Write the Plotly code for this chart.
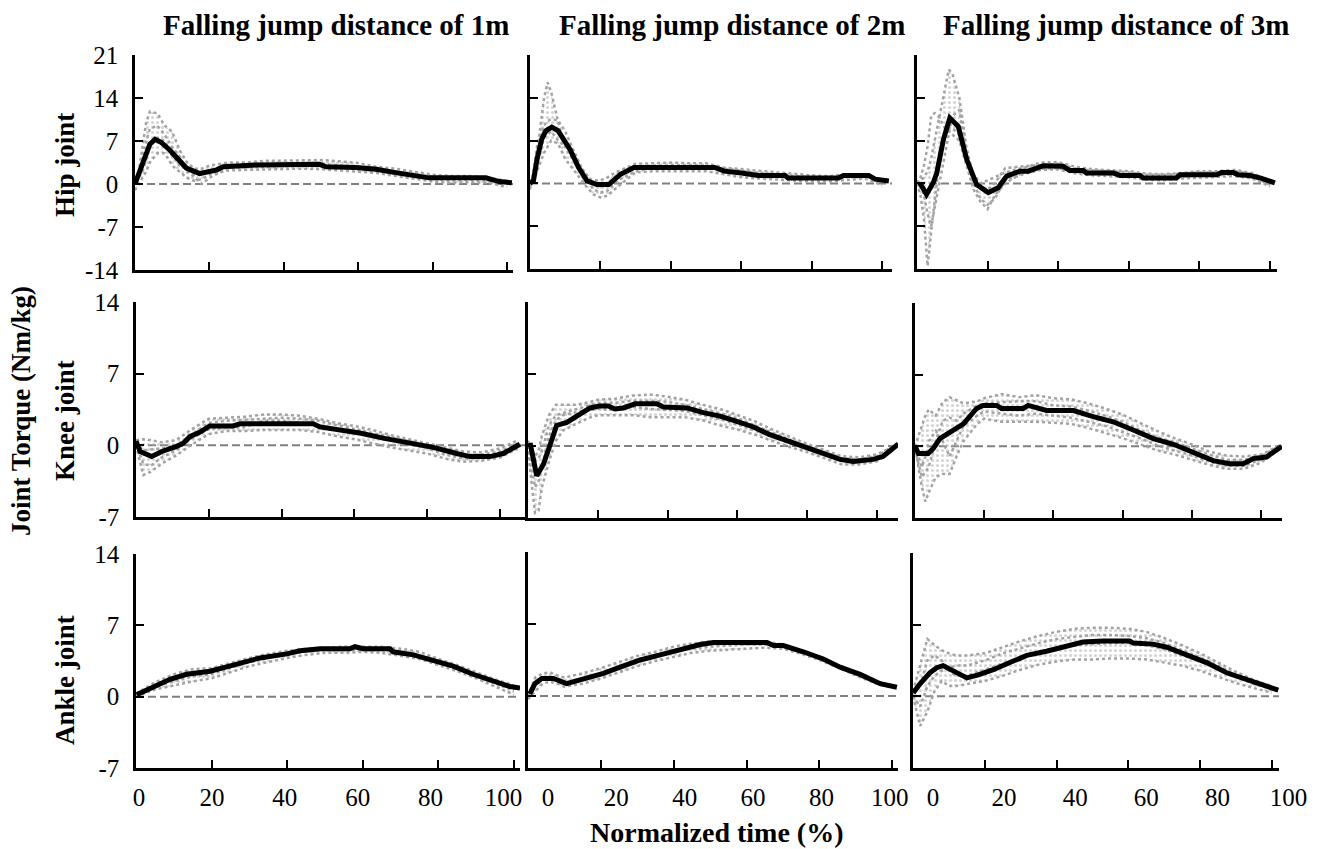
import plotly.graph_objects as go

W, H = 1321, 849
FONT = "Liberation Serif, Times New Roman, Times, serif"

# ---------------- data ----------------
TITLES = ["Falling jump distance of 1m", "Falling jump distance of 2m", "Falling jump distance of 3m"]
ROW_LABELS = ["Hip joint", "Knee joint", "Ankle joint"]
X_TICKS = [0, 20, 40, 60, 80, 100]
X_TICK_TEXT = ["0", "20", "40", "60", "80", "100"]
Y_TICKS_HIP = [-14, -7, 0, 7, 14, 21]
Y_TEXT_HIP = ["-14", "-7", "0", "7", "14", "21"]
Y_TICKS_OTHER = [-7, 0, 7, 14]
Y_TEXT_OTHER = ["-7", "0", "7", "14"]

# Each *_TRIALS list: first = upper trial, second = lower trial, then others.

# Hip, 1 m
HIP_1M_X = [0, 1.8, 3, 4, 5.4, 7, 9.4, 11.2, 13.8, 17.4, 20.1, 22, 23.7, 32.6, 49.6, 51.4, 59.4, 64.8, 70.1, 74.6, 79, 94.3, 97.9, 101.3]
HIP_1M_MEAN = [0, 2.8, 5.0, 6.5, 7.3, 6.8, 5.5, 4.2, 2.6, 1.7, 2.0, 2.3, 2.8, 3.1, 3.2, 2.8, 2.7, 2.4, 1.85, 1.5, 1.0, 1.0, 0.4, 0.2]
HIP_1M_TX = [0, 1, 2, 3, 4, 6, 8, 10, 12, 14, 16, 18, 20, 25, 30, 35, 40, 45, 50, 55, 60, 65, 70, 75, 80, 85, 90, 95, 100]
HIP_1M_TRIALS = [
    [0, 2, 6, 10, 11.8, 11.5, 9.5, 8.5, 5.5, 3.5, 2.5, 2.5, 3.0, 3.5, 3.5, 3.8, 3.8, 3.8, 3.9, 3.7, 3.4, 2.8, 2.5, 2.0, 1.5, 1.3, 1.3, 1.0, 0.5],
    [-1, 0, 1, 2, 3.5, 5, 5, 3, 2, 1.0, 0.5, 0.8, 1.5, 2.2, 2.3, 2.4, 2.5, 2.5, 2.4, 2.2, 2.0, 1.8, 1.3, 0.8, 0.4, 0.2, 0.3, 0.2, -0.5],
    [0, 1.5, 4, 7, 9, 9.5, 8, 6, 4.5, 2.0, 1.5, 1.5, 2.2, 3.0, 2.8, 3.0, 3.3, 3.3, 3.3, 3.0, 2.9, 2.6, 2.0, 1.6, 1.2, 1.1, 1.0, 0.8, 0.3],
    [0.5, 1, 2, 4, 6, 7.5, 7, 4.5, 3, 2.5, 1.0, 0, 1.0, 2.6, 2.7, 2.8, 2.9, 3.0, 2.9, 2.6, 2.4, 2.1, 1.6, 1.2, 0.8, 0.6, 0.7, 0.5, 0],
]

# Hip, 2 m
HIP_2M_X = [0, 1, 2, 3.3, 4.5, 6.2, 8, 9.5, 11.4, 13.8, 16.2, 19, 22.4, 25.7, 29.5, 52.4, 55.2, 60, 64.8, 72.4, 73.3, 87.6, 89, 96.2, 98, 101.9]
HIP_2M_MEAN = [0, 0.5, 4.0, 7.2, 8.6, 9.2, 8.6, 7.2, 5.5, 2.6, 0.4, -0.2, -0.2, 1.5, 2.6, 2.6, 2.0, 1.7, 1.3, 1.3, 0.9, 0.9, 1.3, 1.3, 0.7, 0.4]
HIP_2M_TX = [0, 1, 2, 3, 4, 5, 6, 8, 10, 12, 14, 16, 18, 20, 22, 25, 30, 35, 40, 45, 50, 55, 60, 65, 70, 75, 80, 85, 90, 95, 100]
HIP_2M_TRIALS = [
    [0, 1, 5, 10, 14, 16.5, 15, 10, 6, 4, 2.5, 1.0, 0.5, 0.5, 1.0, 2.0, 3.2, 3.3, 3.4, 3.3, 3.3, 2.6, 2.3, 2.0, 1.8, 1.6, 1.3, 1.2, 1.5, 1.5, 0.5],
    [-0.5, 0.5, 2, 3.5, 5, 6, 7, 6.5, 4, 2.5, 1, -0.5, -1.8, -2.3, -2.0, -0.5, 1.8, 2.0, 2.0, 2.0, 2.0, 1.5, 1.0, 0.8, 0.6, 0.4, 0.3, 0.3, 0.5, 0.8, -0.3],
    [-1, 2, 6, 8, 9.5, 10.2, 10.5, 10.3, 8.5, 6, 3.5, 0.8, -1, -1.5, -1.2, 0.5, 2.0, 2.6, 2.7, 2.7, 2.6, 2.2, 1.9, 1.5, 1.3, 1.0, 0.9, 0.9, 1.1, 1.2, 0.2],
    [0, 1, 3, 5.5, 7.5, 8, 8.5, 7, 6, 5.5, 3, 1.5, 0, -0.5, 0, 1.5, 2.8, 2.9, 3.0, 3.0, 2.9, 2.4, 2.1, 1.7, 1.5, 1.2, 1.0, 0.9, 1.3, 1.4, 0.4],
]

# Hip, 3 m
HIP_3M_X = [0.8, 2.7, 4.6, 5.6, 7.5, 9.3, 11.7, 14.1, 16.9, 20.2, 23, 25.4, 29.2, 31.5, 35.8, 41.4, 43.3, 47.1, 48, 55.6, 57.5, 63.2, 64.1, 73.5, 74.5, 84.9, 86.3, 89.6, 91, 94.3, 97.2, 101.4]
HIP_3M_MEAN = [0.1, -1.8, 0.1, 1.7, 7.2, 10.7, 9.3, 3.9, -0.2, -1.5, -0.7, 1.2, 2.0, 2.0, 2.9, 2.8, 2.1, 2.1, 1.7, 1.7, 1.3, 1.3, 0.9, 0.9, 1.4, 1.4, 1.8, 1.8, 1.4, 1.3, 0.9, 0.1]
HIP_3M_TX = [0, 1, 2, 3, 4, 5, 6, 7, 8, 9, 10, 12, 14, 16, 18, 20, 22, 25, 30, 35, 40, 45, 50, 55, 60, 65, 70, 75, 80, 85, 90, 95, 100]
HIP_3M_TRIALS = [
    [0, 0.5, 1, 2, 4, 7, 10, 13, 16, 18.6, 18, 14, 6, 1, -0.5, -1, 0, 2.5, 2.8, 3.0, 3.2, 2.4, 2.1, 2.0, 1.8, 1.4, 1.4, 1.6, 1.8, 1.8, 2.0, 1.5, 0.2],
    [0, -2, -6, -13.5, -8, -3, 2, 5, 8, 9, 9, 8, 4, 0, -2.5, -3.5, -2.5, 0.5, 1.5, 2.2, 2.3, 1.6, 1.3, 1.2, 1.0, 0.6, 0.5, 0.8, 0.9, 1.0, 1.2, 0.8, -0.5],
    [0, 1, 3, 6, 11, 11.5, 11, 10, 9, 8.5, 8, 7, 3, -1, -3, -4.2, -2, 0, 1.8, 2.4, 2.5, 1.9, 1.6, 1.5, 1.3, 1.0, 0.9, 1.1, 1.3, 1.3, 1.5, 1.1, -0.2],
    [0.5, -0.5, -2, -5, -7, -4, -1, 2, 5, 8, 11, 12, 5, 1.5, 0, 0.5, 1.0, 1.8, 2.5, 3.4, 3.5, 2.7, 2.3, 2.2, 2.0, 1.6, 1.5, 1.7, 2.0, 2.0, 2.2, 1.7, 0.3],
]

# Knee, 1 m
KNEE_1M_X = [0, 1.1, 4.3, 7.1, 11.2, 13, 14.8, 17.6, 20.3, 26.7, 28.6, 48.7, 50.5, 56, 61.5, 67.9, 75.3, 81.7, 88.1, 91.8, 97.3, 100.9, 105.5]
KNEE_1M_MEAN = [0.4, -0.6, -1.1, -0.6, -0.1, 0.2, 0.85, 1.3, 1.9, 1.9, 2.1, 2.1, 1.8, 1.5, 1.2, 0.7, 0.2, -0.2, -0.8, -1.1, -1.1, -0.8, 0.1]
KNEE_1M_TX = [0, 2, 4, 7, 11, 15, 20, 25, 30, 35, 40, 45, 50, 55, 60, 65, 70, 75, 80, 85, 90, 95, 100, 105]
KNEE_1M_TRIALS = [
    [0.5, 0.6, 0.5, 0.3, 0.5, 1.5, 2.6, 2.7, 2.8, 3.0, 3.0, 2.9, 2.6, 2.2, 1.9, 1.5, 1.0, 0.6, 0.2, -0.2, -0.6, -0.7, -0.3, 0.5],
    [0, -2.9, -2.6, -1.8, -1.0, 0, 1.1, 1.4, 1.4, 1.5, 1.5, 1.5, 1.3, 0.9, 0.6, 0.2, -0.2, -0.5, -0.8, -1.3, -1.6, -1.5, -1.2, -0.3],
    [0.2, -1.8, -2.0, -1.2, -0.5, 0.6, 1.6, 1.7, 1.8, 2.4, 2.4, 2.2, 2.0, 1.6, 1.3, 0.9, 0.6, 0.1, -0.3, -0.9, -1.3, -1.2, -1.0, 0],
    [0.3, -0.5, -0.4, -0.3, 0, 1.0, 2.2, 2.4, 2.5, 2.6, 2.7, 2.6, 2.4, 2.0, 1.6, 1.2, 0.8, 0.4, 0, -0.5, -0.9, -0.9, -0.6, 0.2],
]

# Knee, 2 m
KNEE_2M_X = [0.6, 2.5, 4.4, 6.3, 8.2, 11.1, 14, 17.8, 20.6, 23, 24.9, 27.3, 30.7, 36.9, 38.8, 42.6, 45.5, 50.2, 55, 59.8, 64.6, 69.3, 74.1, 78.9, 83.7, 89.4, 93.2, 98.9, 101.8, 106.1]
KNEE_2M_MEAN = [0.3, -2.9, -1.8, 0.2, 2.0, 2.3, 2.9, 3.7, 3.9, 3.9, 3.6, 3.7, 4.1, 4.1, 3.8, 3.8, 3.7, 3.25, 2.9, 2.4, 1.85, 1.1, 0.5, 0, -0.65, -1.3, -1.5, -1.3, -1.0, 0.2]
KNEE_2M_TX = [0, 2, 3, 4, 6, 8, 10, 14, 18, 20, 25, 30, 35, 40, 45, 50, 55, 60, 65, 70, 75, 80, 85, 90, 95, 100, 105]
KNEE_2M_TRIALS = [
    [0.5, -1, -0.5, 1, 3, 4, 4, 4, 4.3, 4.5, 4.6, 4.9, 5.0, 4.8, 4.5, 4.0, 3.6, 3.0, 2.4, 1.6, 0.9, 0.2, -0.4, -1.0, -1.1, -0.8, 0],
    [-0.5, -6.5, -6.3, -4, -1.5, 0.5, 1.5, 2.2, 2.8, 3.0, 3.0, 3.0, 2.8, 2.8, 2.8, 2.5, 2.0, 1.6, 1.1, 0.5, -0.1, -0.6, -1.2, -1.8, -1.8, -1.5, -0.3],
    [0, -4, -3.5, -2, 1, 2.5, 3, 3.3, 3.5, 3.6, 3.5, 3.8, 3.6, 3.5, 3.4, 3.0, 2.6, 2.1, 1.5, 0.9, 0.3, -0.3, -0.9, -1.4, -1.5, -1.2, -0.1],
    [0.2, -1.5, -1.2, -0.5, 2, 3, 3.2, 3.6, 4, 4.2, 4.2, 4.4, 4.4, 4.3, 4.0, 3.6, 3.2, 2.7, 2.0, 1.3, 0.6, 0, -0.6, -1.2, -1.3, -1.0, 0.1],
]

# Knee, 3 m
KNEE_3M_X = [0, 1, 3.8, 5.3, 7.2, 10.1, 14, 17.8, 19.7, 23.6, 25, 31.3, 32.7, 38, 45.8, 51.5, 57.3, 63.1, 68.9, 74.7, 80.4, 86.2, 91, 94.9, 97.8, 101.6, 106]
KNEE_3M_MEAN = [0, -0.7, -0.7, -0.2, 0.75, 1.4, 2.2, 3.7, 4.0, 4.0, 3.7, 3.7, 4.0, 3.5, 3.5, 2.9, 2.4, 1.6, 0.75, 0.2, -0.55, -1.4, -1.7, -1.7, -1.2, -1.05, 0]
KNEE_3M_TX = [0, 2, 3, 4, 6, 8, 10, 12, 14, 18, 20, 25, 30, 35, 40, 45, 50, 55, 60, 65, 70, 75, 80, 85, 90, 95, 100, 105]
KNEE_3M_TRIALS = [
    [0, 2, 3, 3.6, 3, 4.3, 4.8, 4.5, 4.2, 4.4, 4.7, 5.1, 4.8, 5.0, 4.7, 4.6, 4.2, 3.7, 3.1, 2.3, 1.5, 0.8, 0.2, -0.5, -0.9, -1.0, -0.8, 0],
    [0, -4, -5.4, -4.5, -3, -2.7, -2.7, -1, 0.5, 2.2, 2.7, 2.4, 2.4, 2.4, 2.3, 2.2, 1.8, 1.3, 0.8, 0.2, -0.4, -0.8, -1.3, -1.8, -2.2, -2.2, -1.6, -0.3],
    [0, -2, -1, 0.5, 1.5, 0.5, -1.0, 0.5, 2.0, 3.0, 3.4, 3.2, 3.0, 3.2, 3.0, 2.8, 2.4, 2.0, 1.4, 0.8, 0.1, -0.4, -0.9, -1.5, -1.9, -1.9, -1.3, -0.2],
    [-0.3, -3, -2.5, -2, 0.5, 2.5, 2.8, 2.5, 3.2, 4.0, 4.2, 4.3, 4.4, 4.4, 4.0, 3.9, 3.5, 3.0, 2.4, 1.6, 0.9, 0.4, -0.2, -0.8, -1.3, -1.3, -1.0, 0],
]

# Ankle, 1 m
ANKLE_1M_X = [0.2, 1.9, 5.5, 9, 13.4, 19.6, 25.7, 32.8, 39.9, 43.4, 48.7, 56.6, 57.9, 60.1, 67.2, 68, 73.4, 78.7, 83.9, 89.2, 94.5, 98.9, 101.6]
ANKLE_1M_MEAN = [0.2, 0.5, 1.2, 1.7, 2.2, 2.5, 3.1, 3.8, 4.2, 4.5, 4.7, 4.7, 4.9, 4.7, 4.7, 4.4, 4.1, 3.6, 3.0, 2.2, 1.6, 1.0, 0.85]
ANKLE_1M_TX = [0, 5, 10, 15, 20, 25, 30, 35, 40, 45, 50, 55, 60, 65, 70, 75, 80, 85, 90, 95, 100]
ANKLE_1M_TRIALS = [
    [0.3, 1.4, 2.2, 2.7, 2.8, 3.3, 3.8, 4.2, 4.5, 4.7, 4.8, 4.9, 4.9, 4.9, 4.7, 4.4, 3.7, 3.1, 2.4, 1.7, 1.1],
    [0, 0.7, 1.1, 1.5, 1.8, 2.4, 3.0, 3.4, 3.8, 4.1, 4.3, 4.3, 4.4, 4.3, 4.0, 3.7, 3.1, 2.5, 1.8, 1.0, 0.2],
    [0.2, 1.0, 1.5, 2.0, 2.2, 2.8, 3.4, 3.8, 4.2, 4.4, 4.6, 4.6, 4.6, 4.6, 4.4, 4.0, 3.4, 2.8, 2.1, 1.3, 0.6],
]

# Ankle, 2 m
ANKLE_2M_X = [0.5, 1.9, 3.8, 7, 10.6, 16.1, 20.7, 25.3, 30.8, 36.3, 41.8, 47.3, 50.9, 65.6, 67.4, 70.1, 75.6, 81.1, 85.7, 91.2, 96.7, 101.3]
ANKLE_2M_MEAN = [0.2, 1.2, 1.7, 1.7, 1.2, 1.7, 2.2, 2.8, 3.5, 4.0, 4.5, 5.0, 5.2, 5.2, 4.9, 4.9, 4.3, 3.6, 2.8, 2.1, 1.2, 0.85]
ANKLE_2M_TX = [0, 2, 4, 6, 8, 10, 15, 20, 25, 30, 35, 40, 45, 50, 55, 60, 65, 70, 75, 80, 85, 90, 95, 100]
ANKLE_2M_TRIALS = [
    [0, 1.8, 2.2, 2.3, 2.0, 1.8, 2.2, 2.7, 3.3, 3.9, 4.3, 4.8, 5.1, 5.3, 5.3, 5.3, 5.3, 5.0, 4.4, 3.8, 3.0, 2.3, 1.5, 0.9],
    [-0.3, 0.5, 1.2, 1.4, 1.2, 0.9, 1.2, 1.7, 2.3, 2.9, 3.4, 3.8, 4.2, 4.4, 4.5, 4.6, 4.7, 4.6, 4.1, 3.5, 2.8, 2.0, 1.3, 0.8],
    [0, 1.2, 1.8, 1.9, 1.6, 1.3, 1.6, 2.1, 2.7, 3.3, 3.8, 4.3, 4.6, 4.8, 4.9, 5.0, 5.0, 4.8, 4.3, 3.6, 2.9, 2.1, 1.4, 0.9],
]

# Ankle, 3 m
ANKLE_3M_X = [0.1, 1.9, 4.7, 6.6, 8.4, 12.2, 15, 18.2, 22.4, 27, 31.7, 37.2, 42.8, 47.4, 53, 60.4, 61.4, 66.9, 70.7, 76.2, 81.8, 87.4, 92.9, 98.5, 101.8]
ANKLE_3M_MEAN = [0.35, 1.2, 2.3, 2.8, 3.0, 2.3, 1.8, 2.1, 2.6, 3.3, 4.0, 4.4, 4.9, 5.3, 5.4, 5.4, 5.2, 5.1, 4.8, 4.0, 3.3, 2.3, 1.6, 1.0, 0.6]
ANKLE_3M_TX = [0, 2, 4, 6, 8, 10, 12, 15, 20, 25, 30, 35, 40, 45, 50, 55, 60, 65, 70, 75, 80, 85, 90, 95, 100]
ANKLE_3M_TRIALS = [
    [0.5, 3, 5.6, 5, 4.5, 4.2, 4.0, 4.0, 4.2, 4.8, 5.4, 5.9, 6.3, 6.6, 6.7, 6.7, 6.6, 6.3, 5.7, 5.0, 4.2, 3.3, 2.4, 1.6, 1.0],
    [0, -2.9, -1.5, 0.5, 1.5, 1.0, 1.0, 1.2, 1.5, 2.0, 2.6, 3.1, 3.4, 3.6, 3.6, 3.7, 3.7, 3.6, 3.3, 3.0, 2.5, 1.9, 1.3, 0.8, 0.35],
    [0.2, 1, 3.5, 4, 3.5, 2.5, 2.0, 2.0, 2.6, 3.2, 3.8, 4.3, 4.7, 5.0, 5.1, 5.2, 5.2, 5.0, 4.6, 4.0, 3.4, 2.7, 1.9, 1.2, 0.7],
    [0, -1, 1, 2, 2.5, 2.8, 3.0, 3.0, 3.5, 4.2, 4.7, 5.2, 5.6, 5.8, 6.0, 6.0, 5.9, 5.7, 5.2, 4.5, 3.8, 3.0, 2.1, 1.4, 0.8],
]

PANELS = [
    (HIP_1M_X, HIP_1M_MEAN, HIP_1M_TX, HIP_1M_TRIALS),
    (HIP_2M_X, HIP_2M_MEAN, HIP_2M_TX, HIP_2M_TRIALS),
    (HIP_3M_X, HIP_3M_MEAN, HIP_3M_TX, HIP_3M_TRIALS),
    (KNEE_1M_X, KNEE_1M_MEAN, KNEE_1M_TX, KNEE_1M_TRIALS),
    (KNEE_2M_X, KNEE_2M_MEAN, KNEE_2M_TX, KNEE_2M_TRIALS),
    (KNEE_3M_X, KNEE_3M_MEAN, KNEE_3M_TX, KNEE_3M_TRIALS),
    (ANKLE_1M_X, ANKLE_1M_MEAN, ANKLE_1M_TX, ANKLE_1M_TRIALS),
    (ANKLE_2M_X, ANKLE_2M_MEAN, ANKLE_2M_TX, ANKLE_2M_TRIALS),
    (ANKLE_3M_X, ANKLE_3M_MEAN, ANKLE_3M_TX, ANKLE_3M_TRIALS),
]

# ---------------- layout geometry (pixels) ----------------
# left, right, top, bottom, x max, y min, y max
GEOM = [
    (135, 513, 55, 270, 101.6, -14, 21),
    (530, 892, 55, 269, 102.8, -14, 21),
    (917, 1277, 55, 269, 102.0, -14, 21),
    (136, 525, 302, 517, 106.9, -7, 14),
    (528, 898, 302, 518, 106.0, -7, 14),
    (915, 1282, 303, 518, 106.1, -7, 14),
    (136, 520, 554, 768, 101.6, -7, 14),
    (528, 898, 552, 768, 101.6, -7, 14),
    (913, 1279, 553, 768, 102.0, -7, 14),
]
# pixel centres of the "0" and "100" x tick labels under each bottom panel
LABEL_PX = {7: (139, 503.5), 8: (548, 889.8), 9: (933, 1288.6)}
TITLE_X = [336, 732, 1116]
ROW_Y = [165, 421, 680]

GRAY = "#a3a3a3"

def ax(name, k):
    return name if k == 1 else f"{name}{k}"

fig = go.Figure()
layout = dict(
    width=W, height=H, margin=dict(l=0, r=0, t=0, b=0, pad=0, autoexpand=False),
    paper_bgcolor="white", plot_bgcolor="rgba(0,0,0,0)", showlegend=False,
    font=dict(family=FONT, size=25, color="black"),
)
shapes = []

for i, (xm, ym, tx, trials) in enumerate(PANELS):
    k = i + 1
    l, r, t, b, xmax, ymin, ymax = GEOM[i]
    col = i % 3
    row = i // 3
    xa, ya = ax("x", k), ax("y", k)
    for j, tr in enumerate(trials):
        extra = {}
        if j == 1:
            # dotted texture between the upper and the lower trial
            extra = dict(fill="tonexty", fillcolor="rgba(0,0,0,0)",
                         fillpattern=dict(shape=".", fgcolor="#ababab",
                                          bgcolor="rgba(0,0,0,0)", size=5, solidity=0.32))
        fig.add_trace(go.Scatter(x=tx, y=tr, mode="lines", xaxis=xa, yaxis=ya,
                                 line=dict(color=GRAY, width=2.5, dash="dot"),
                                 hoverinfo="skip", **extra))
    fig.add_trace(go.Scatter(x=xm, y=ym, mode="lines", xaxis=xa, yaxis=ya,
                             line=dict(color="black", width=5), hoverinfo="skip"))
    layout[ax("xaxis", k)] = dict(
        domain=[l / W, r / W], range=[0, xmax], anchor=ya, automargin=False,
        showline=True, linecolor="black", linewidth=2.5,
        ticks="inside", ticklen=8, tickwidth=2, tickcolor="black",
        tickvals=X_TICKS, showticklabels=False,
        showgrid=False, zeroline=False, fixedrange=True,
    )
    layout[ax("yaxis", k)] = dict(
        domain=[1 - b / H, 1 - t / H], range=[ymin, ymax], anchor=xa, automargin=False,
        showline=True, linecolor="black", linewidth=2.5,
        ticks="inside", ticklen=8, tickwidth=2, tickcolor="black",
        tickvals=Y_TICKS_HIP if row == 0 else Y_TICKS_OTHER,
        ticktext=Y_TEXT_HIP if row == 0 else Y_TEXT_OTHER,
        showticklabels=(col == 0), ticklabelstandoff=9,
        tickfont=dict(family=FONT, size=25, color="black"),
        showgrid=False, zeroline=False, fixedrange=True,
    )
    shapes.append(dict(type="line", xref=f"{xa} domain", x0=0, x1=1,
                       yref=ya, y0=0, y1=0, layer="below",
                       line=dict(color="#808080", width=2, dash="8px,4px")))

# tick-label axes under the bottom row (free axes, wider than the panels)
for k, (p0, p100) in LABEL_PX.items():
    l, r, t, b, xmax, ymin, ymax = GEOM[k - 1]
    lk = k + 3
    left, right = l - 20, min(r + 35, W)
    span = p100 - p0
    rng = [(left - p0) / span * 100, (right - p0) / span * 100]
    xm, ym = PANELS[k - 1][0], PANELS[k - 1][1]
    fig.add_trace(go.Scatter(x=xm, y=ym, mode="lines", xaxis=f"x{lk}", yaxis=ax("y", k),
                             line=dict(width=0, color="rgba(0,0,0,0)"), opacity=0,
                             hoverinfo="skip"))
    layout[f"xaxis{lk}"] = dict(
        domain=[left / W, right / W], range=rng, anchor=ax("y", k), automargin=False,
        side="bottom", showline=False, ticks="", tickvals=X_TICKS, ticktext=X_TICK_TEXT,
        ticklabelstandoff=12, tickfont=dict(family=FONT, size=25, color="black"),
        showgrid=False, zeroline=False, fixedrange=True,
    )

annotations = []
for j, title in enumerate(TITLES):
    annotations.append(dict(text=f"<b>{title}</b>", x=TITLE_X[j] / W, y=1 - 25 / H,
                            xref="paper", yref="paper", showarrow=False,
                            xanchor="center", yanchor="middle",
                            font=dict(family=FONT, size=29, color="black")))
for j, lab in enumerate(ROW_LABELS):
    annotations.append(dict(text=f"<b>{lab}</b>", x=65 / W, y=1 - ROW_Y[j] / H,
                            xref="paper", yref="paper", showarrow=False, textangle=-90,
                            xanchor="center", yanchor="middle",
                            font=dict(family=FONT, size=27, color="black")))
annotations.append(dict(text="<b>Joint Torque (Nm/kg)</b>", x=21 / W, y=1 - 411 / H,
                        xref="paper", yref="paper", showarrow=False, textangle=-90,
                        xanchor="center", yanchor="middle",
                        font=dict(family=FONT, size=27, color="black")))
annotations.append(dict(text="<b>Normalized time (%)</b>", x=716 / W, y=1 - 832 / H,
                        xref="paper", yref="paper", showarrow=False,
                        xanchor="center", yanchor="middle",
                        font=dict(family=FONT, size=28, color="black")))

layout["shapes"] = shapes
layout["annotations"] = annotations
fig.update_layout(**layout)
fig.write_html("out.html")
